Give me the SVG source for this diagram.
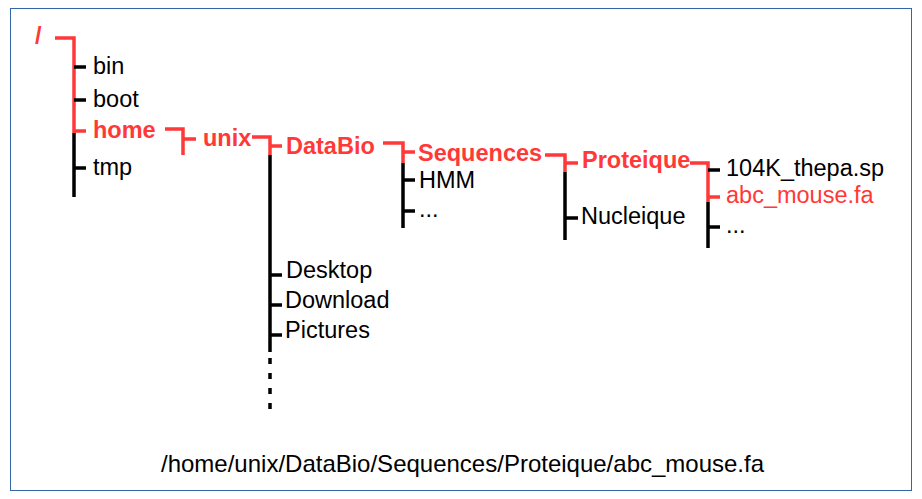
<svg xmlns="http://www.w3.org/2000/svg" width="922" height="499" viewBox="0 0 922 499">
<style>
.t{font-family:"Liberation Sans",Arial,sans-serif;font-size:23.5px;fill:#000}
.r{fill:#ff3838}
.b{font-weight:bold}
.lr{stroke:#ff3838;stroke-width:3.5;fill:none}
.lk{stroke:#000;stroke-width:3.5;fill:none}
</style>
<rect x="10.5" y="8.5" width="901" height="482" fill="#fff" stroke="#3465a4" stroke-width="1"/>
<g id="connectors">
<path class="lr" d="M55 38 H74 V133 M74 131 H86"/>
<path class="lk" d="M74 133 V197 M74 67 H86 M74 100 H86 M74 168 H86"/>
<path class="lr" d="M165 129 H183 V155 M183 139 H196"/>
<path class="lr" d="M252 137 H270 V155 M270 146 H282"/>
<path class="lk" d="M270 155 V352 M270 275 H282 M270 305 H282 M270 335 H282"/>
<path class="lk" d="M270 358 V412" stroke-dasharray="6 9"/>
<path class="lr" d="M383 143 H403 V163 M403 152 H415"/>
<path class="lk" d="M403 163 V228 M403 180 H415 M403 211 H415"/>
<path class="lr" d="M545 155 H565 V172 M565 163 H578"/>
<path class="lk" d="M565 172 V240 M565 218 H578"/>
<path class="lr" d="M690 163 H708 V202 M708 197 H720"/>
<path class="lk" d="M708 202 V248 M708 170 H720 M708 227 H720"/>
</g>
<g id="n-root"><text class="t r b" x="35" y="44">/</text></g>
<g id="n-bin"><text class="t" x="93" y="74">bin</text></g>
<g id="n-boot"><text class="t" x="93" y="107">boot</text></g>
<g id="n-home"><text class="t r b" x="93" y="138">home</text></g>
<g id="n-tmp"><text class="t" x="93" y="175">tmp</text></g>
<g id="n-unix"><text class="t r b" x="203" y="146">unix</text></g>
<g id="n-databio"><text class="t r b" x="286" y="154">DataBio</text></g>
<g id="n-desktop"><text class="t" x="286" y="278">Desktop</text></g>
<g id="n-download"><text class="t" x="285" y="308">Download</text></g>
<g id="n-pictures"><text class="t" x="285" y="338">Pictures</text></g>
<g id="n-sequences"><text class="t r b" x="418" y="161">Sequences</text></g>
<g id="n-hmm"><text class="t" x="419" y="188">HMM</text></g>
<g id="n-dots1"><text class="t" x="419" y="217">...</text></g>
<g id="n-proteique"><text class="t r b" x="582" y="168">Proteique</text></g>
<g id="n-nucleique"><text class="t" x="581" y="224">Nucleique</text></g>
<g id="n-104k"><text class="t" x="726" y="176">104K_thepa.sp</text></g>
<g id="n-abc"><text class="t r" x="726" y="203">abc_mouse.fa</text></g>
<g id="n-dots2"><text class="t" x="726" y="233">...</text></g>
<text class="t" x="161" y="472" style="font-size:24px">/home/unix/DataBio/Sequences/Proteique/abc_mouse.fa</text>
</svg>
